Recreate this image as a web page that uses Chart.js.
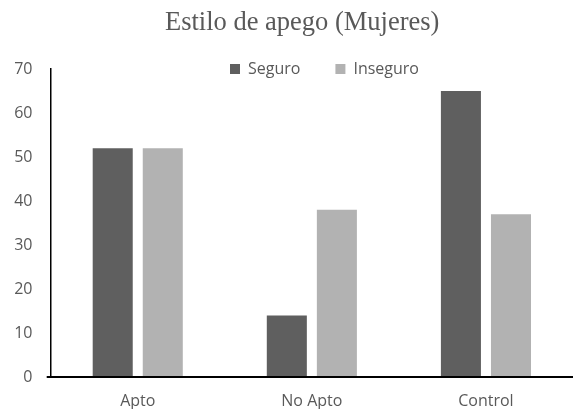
<!DOCTYPE html>
<html>
<head>
<meta charset="utf-8">
<script src="https://cdn.jsdelivr.net/npm/chart.js@4.4.1/dist/chart.umd.min.js"></script>
<style>
  html, body { margin: 0; padding: 0; background: #ffffff; }
  #wrap { width: 573px; height: 409px; }
</style>
</head>
<body>
<div id="wrap"><canvas id="c"></canvas></div>
<script>
const categories = ['Apto', 'No Apto', 'Control'];
const seriesNames = ['Seguro', 'Inseguro'];
const seguro = [52, 14, 65];
const inseguro = [52, 38, 37];
const yTicks = [0, 10, 20, 30, 40, 50, 60, 70];
const titleText = 'Estilo de apego (Mujeres)';

// moves the title and legend blocks to where the reference has them
const nudge = {
  id: 'nudge',
  afterLayout(chart, args, opts) {
    const t = chart.titleBlock;
    if (t) { t.left += opts.titleDx; t.right += opts.titleDx; }
    const l = chart.legend;
    if (l) {
      l.left += opts.legendDx; l.right += opts.legendDx;
      l.top += opts.legendDy; l.bottom = l.top + opts.legendH; l.height = opts.legendH;
    }
  }
};

const sansFamily = "'Open Sans', 'Noto Sans', sans-serif";
const tickFont = { family: sansFamily, size: 16, lineHeight: 1 };

new Chart(document.getElementById('c'), {
  type: 'bar',
  data: {
    labels: categories,
    datasets: [
      { label: seriesNames[0], data: seguro, backgroundColor: '#5f5f5f', borderWidth: 0,
        categoryPercentage: 0.575, barPercentage: 0.8 },
      { label: seriesNames[1], data: inseguro, backgroundColor: '#b2b2b2', borderWidth: 0,
        categoryPercentage: 0.575, barPercentage: 0.8 }
    ]
  },
  options: {
    responsive: true,
    maintainAspectRatio: false,
    animation: false,
    layout: { padding: { left: 0, right: 0, top: 0, bottom: -16 } },
    plugins: {
      nudge: { titleDx: 15.7, legendDx: 195, legendDy: -42, legendH: 61 },
      title: {
        display: true,
        text: titleText,
        color: '#595959',
        font: { family: "'Liberation Serif', 'Times New Roman', serif", size: 26.5, weight: 'normal', lineHeight: 1.2 },
        padding: { top: 6.9, bottom: 29.3 }
      },
      legend: {
        display: true,
        position: 'top',
        align: 'start',
        maxHeight: 1,
        labels: {
          boxWidth: 10,
          boxHeight: 10,
          padding: 35,
          color: '#595959',
          font: { family: sansFamily, size: 16 }
        }
      },
      tooltip: { enabled: false }
    },
    scales: {
      x: {
        grid: { display: false, drawTicks: false },
        border: { display: true, color: '#000000', width: 2 },
        ticks: { color: '#595959', font: tickFont, padding: 16, maxRotation: 0 }
      },
      y: {
        min: 0,
        max: 70,
        afterBuildTicks(scale) { scale.ticks = yTicks.map(v => ({ value: v })); },
        grid: {
          display: true,
          drawOnChartArea: false,
          drawTicks: true,
          tickLength: 4,
          lineWidth: 2,
          color: (ctx) => (ctx.tick && ctx.tick.value === 0 ? '#000000' : 'rgba(0,0,0,0)')
        },
        border: { display: true, color: '#000000', width: 1.5 },
        ticks: { color: '#595959', font: tickFont, padding: 14.2 }
      }
    }
  },
  plugins: [nudge]
});
</script>
</body>
</html>
